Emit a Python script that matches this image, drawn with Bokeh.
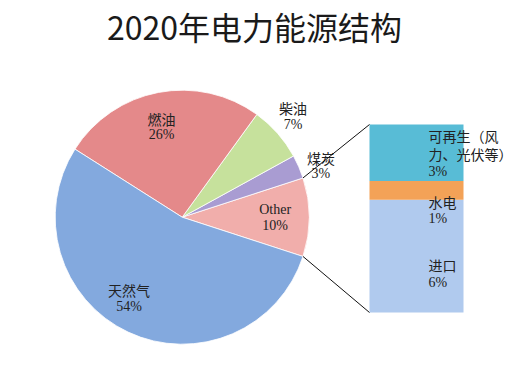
import math
from bokeh.plotting import figure
from bokeh.models import Range1d
from bokeh.core.properties import value
from bokeh.embed import file_html
from bokeh.resources import INLINE

# ---- data ----
title_text = "2020年电力能源结构"
categories = ["Other", "煤炭", "柴油", "燃油", "天然气"]
values = [10, 3, 7, 26, 54]
pct_labels = ["10%", "3%", "7%", "26%", "54%"]
sub_categories = ["进口", "水电", "可再生（风\n力、光伏等）"]
sub_values = [6, 1, 3]
sub_pct_labels = ["6%", "1%", "3%"]

# ---- style / layout ----
W, H = 520, 370
pie_colors = ["#f1aeab", "#a99cd2", "#c6e19c", "#e4898a", "#83a9de"]
sub_colors = ["#b0caee", "#f3a257", "#58bcd6"]
cx, cy, R = 181.7, 153.3, 127.0
label_r = [93, 148, 150, 93, 97]
label_da = [0, -3, 1, 2, -8]
cjk = value("Noto Sans CJK SC")
serif = value("Liberation Serif")
txt_col = "#222222"

p = figure(width=W, height=H, x_range=Range1d(0, W), y_range=Range1d(0, H),
           min_border=0, toolbar_location=None, output_backend="svg",
           x_axis_location=None, y_axis_location=None)
p.grid.visible = False
p.outline_line_color = None
p.background_fill_color = "white"

# title
p.text(x=[254], y=[H - 25], text=[title_text], text_font=cjk, text_font_size="32px",
       text_align="center", text_baseline="middle", text_color="#1a1a1a")

# pie
total = sum(values)
start0 = -math.pi * values[0] / total
starts, ends = [], []
a = start0
for v in values:
    starts.append(a)
    a += 2 * math.pi * v / total
    ends.append(a)
p.wedge(x=[cx] * len(values), y=[cy] * len(values), radius=R,
        start_angle=starts, end_angle=ends, fill_color=pie_colors,
        line_color="white", line_width=0.8)

for i, (c, pl) in enumerate(zip(categories, pct_labels)):
    mid = (starts[i] + ends[i]) / 2 + math.radians(label_da[i])
    lx = cx + label_r[i] * math.cos(mid)
    ly = cy + label_r[i] * math.sin(mid)
    p.text(x=[lx], y=[ly + 8], text=[c], text_font=cjk if c != "Other" else serif,
           text_font_size="14px", text_align="center", text_baseline="middle",
           text_color=txt_col)
    p.text(x=[lx], y=[ly - 8], text=[pl], text_font=serif, text_font_size="14px",
           text_align="center", text_baseline="middle", text_color=txt_col)

# stacked bar for "Other"
bar_left, bar_right, bar_base, bar_top = 369, 463, 58, 246
unit = (bar_top - bar_base) / sum(sub_values)
bottoms, tops = [], []
acc = 0
for v in sub_values:
    bottoms.append(bar_base + acc * unit)
    acc += v
    tops.append(bar_base + acc * unit)
p.quad(left=[bar_left] * 3, right=[bar_right] * 3, bottom=bottoms, top=tops,
       fill_color=sub_colors, line_color=None)

tx = 428
# imports
ym = (bottoms[0] + tops[0]) / 2
p.text(x=[tx], y=[ym - 9], text=[sub_categories[0]], text_font=cjk, text_font_size="14px",
       text_align="left", text_baseline="middle", text_color=txt_col)
p.text(x=[tx], y=[ym - 26], text=[sub_pct_labels[0]], text_font=serif, text_font_size="14px",
       text_align="left", text_baseline="middle", text_color=txt_col)
# hydro
yh = bottoms[1] - 2
p.text(x=[tx], y=[yh], text=[sub_categories[1]], text_font=cjk, text_font_size="14px",
       text_align="left", text_baseline="middle", text_color=txt_col)
p.text(x=[tx], y=[yh - 17], text=[sub_pct_labels[1]], text_font=serif, text_font_size="14px",
       text_align="left", text_baseline="middle", text_color=txt_col)
# renewables
lines = sub_categories[2].split("\n")
yr = tops[2] - 11
p.text(x=[tx], y=[yr], text=[lines[0]], text_font=cjk, text_font_size="14px",
       text_align="left", text_baseline="middle", text_color=txt_col)
p.text(x=[tx], y=[yr - 18], text=[lines[1]], text_font=cjk, text_font_size="14px",
       text_align="left", text_baseline="middle", text_color=txt_col)
p.text(x=[tx], y=[yr - 36], text=[sub_pct_labels[2]], text_font=serif, text_font_size="14px",
       text_align="left", text_baseline="middle", text_color=txt_col)

# connectors
p.segment(x0=[cx + R * math.cos(ends[0]), cx + R * math.cos(starts[0])],
          y0=[cy + R * math.sin(ends[0]), cy + R * math.sin(starts[0])],
          x1=[bar_left, bar_left], y1=[bar_top, bar_base],
          line_color="#111111", line_width=1)

open("out.html", "w").write(file_html(p, INLINE))
